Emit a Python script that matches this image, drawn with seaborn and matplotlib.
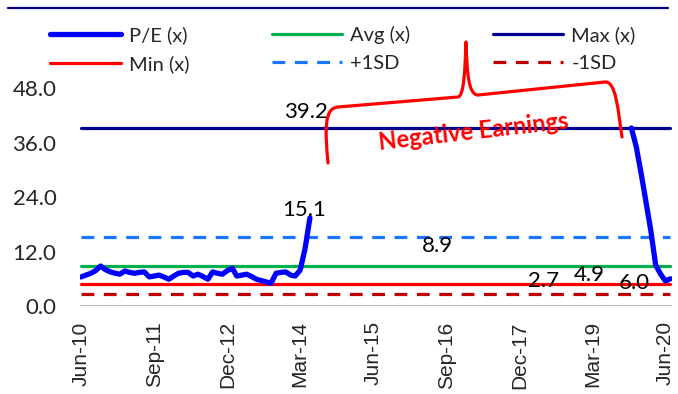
import numpy as np
import pandas as pd
import seaborn as sns
import matplotlib.pyplot as plt
import matplotlib.dates as mdates
from matplotlib.path import Path
from matplotlib.patches import PathPatch
from matplotlib.lines import Line2D

# monthly P/E, Jun-10 .. Jul-20 (gap = negative earnings)
pe_early = [6.4, 6.8, 7.2, 7.8, 8.8, 8.0, 7.5, 7.2, 7.0, 7.7, 7.4, 7.2,
            7.4, 7.5, 6.4, 6.6, 6.8, 6.4, 5.9, 6.6, 7.2, 7.4, 7.4, 6.6,
            7.0, 6.5, 5.9, 7.5, 7.2, 7.0, 7.8, 8.3, 6.6, 6.8, 7.0, 6.5,
            5.9, 5.6, 5.3, 5.0, 7.2, 7.4, 7.5, 6.8, 6.6, 7.9, 12.5, 19.4]
pe_late = [39.2, 35.0, 29.0, 23.0, 16.5, 9.0, 7.0, 5.5, 6.0]
n_months = 122

pe_avg = 8.9
pe_max = 39.2
pe_min = 4.9
pe_plus_sd = 15.1
pe_minus_sd = 2.7

value_labels = ['39.2', '15.1', '8.9', '2.7', '4.9', '6.0']
label_pos = [(46.3, 42.7), (45.9, 21.1), (73.2, 13.2), (95.1, 5.6), (104.5, 6.9), (113.7, 5.0)]

dates = pd.date_range('2010-06-30', periods=n_months, freq='ME')
early = pd.DataFrame({'date': dates[:len(pe_early)], 'pe': pe_early})
late = pd.DataFrame({'date': dates[-len(pe_late):], 'pe': pe_late})

sns.set_style('white')
plt.rcParams['font.family'] = ['Lato', 'DejaVu Sans']

fig = plt.figure(figsize=(6.78, 3.94), dpi=100)
ax = fig.add_axes([80 / 678, 1 - 306 / 394, 592 / 678, 218 / 394])

lw = 2.3
levels = [
    (pe_max, '#000090', '-', 'Max (x)'),
    (pe_plus_sd, '#1a75ff', (0, (4, 3)), '+1SD'),
    (pe_avg, '#00b050', '-', 'Avg (x)'),
    (pe_min, '#ff0000', '-', 'Min (x)'),
    (pe_minus_sd, '#c00000', (0, (4, 3)), '-1SD'),
]
handles = {}
for val, col, ls, name in levels:
    sns.lineplot(x=dates, y=[val] * n_months, ax=ax, color=col, linewidth=lw, linestyle=ls)
    handles[name] = Line2D([], [], color=col, linewidth=lw, linestyle=ls)

ax.axhline(0, color='#a0a0a0', linewidth=1.8, zorder=1)
for seg in (early, late):
    sns.lineplot(data=seg, x='date', y='pe', ax=ax, color='#0000ff', linewidth=3.8,
                 solid_capstyle='round', solid_joinstyle='round', zorder=5)
handles['P/E (x)'] = Line2D([], [], color='#0000ff', linewidth=3.8, solid_capstyle='round')

for txt, (m, v) in zip(value_labels, label_pos):
    ax.text(dates[0] + pd.DateOffset(days=int(m * 30.44)), v, txt, fontsize=16,
            ha='center', va='center', color='black', zorder=6)

ax.set_ylim(0, 48)
ax.set_yticks([0, 12, 24, 36, 48])
ax.set_yticklabels([f'{t:.1f}' for t in [0, 12, 24, 36, 48]], fontsize=16)
ax.set_xlim(dates[0] - pd.Timedelta(days=6), dates[-1] + pd.Timedelta(days=10))
ax.set_xticks(dates[::15])
ax.xaxis.set_major_formatter(mdates.DateFormatter('%b-%y'))
for lab in ax.get_xticklabels():
    lab.set_rotation(90)
    lab.set_fontsize(15)
    lab.set_family('Liberation Sans')
ax.tick_params(axis='y', length=0, pad=17)
ax.tick_params(axis='x', length=0, pad=11)
ax.set_xlabel('')
ax.set_ylabel('')
for s in ax.spines.values():
    s.set_visible(False)

order = ['P/E (x)', 'Min (x)', 'Avg (x)', '+1SD', 'Max (x)', '-1SD']
fig.legend([handles[k] for k in order], order, ncol=3, loc='upper left',
           bbox_to_anchor=(42 / 678, 1 - 18 / 394), frameon=False, fontsize=14.5,
           handlelength=3.5, handletextpad=0.4, columnspacing=4.1,
           labelspacing=0.55, borderaxespad=0)

# top rule
fig.add_artist(Line2D([8 / 678, 668 / 678], [1 - 8 / 394, 1 - 8 / 394],
                      color='#000080', linewidth=1.6))

# brace for negative earnings
pts = [(328, 163), (325, 130), (324, 108), (338, 107), (458, 97),
       (464, 96), (465, 70), (466, 42), (467, 70), (468, 95), (478, 95),
       (605, 82), (616, 81), (618, 110), (622, 137)]
codes = [Path.MOVETO] + [Path.CURVE4] * 3 + [Path.LINETO] + [Path.CURVE4] * 6 + \
        [Path.LINETO] + [Path.CURVE4] * 3
verts = [(x / 678, 1 - y / 394) for x, y in pts]
fig.add_artist(PathPatch(Path(verts, codes), transform=fig.transFigure,
                         facecolor='none', edgecolor='#ff0000', linewidth=2.3,
                         capstyle='round', joinstyle='round'))
fig.text(474 / 678, 1 - 132 / 394, 'Negative Earnings', color='#ff0000',
         fontsize=17, fontweight='bold', rotation=6.5, ha='center', va='center')

fig.savefig('out.png', dpi=100)
